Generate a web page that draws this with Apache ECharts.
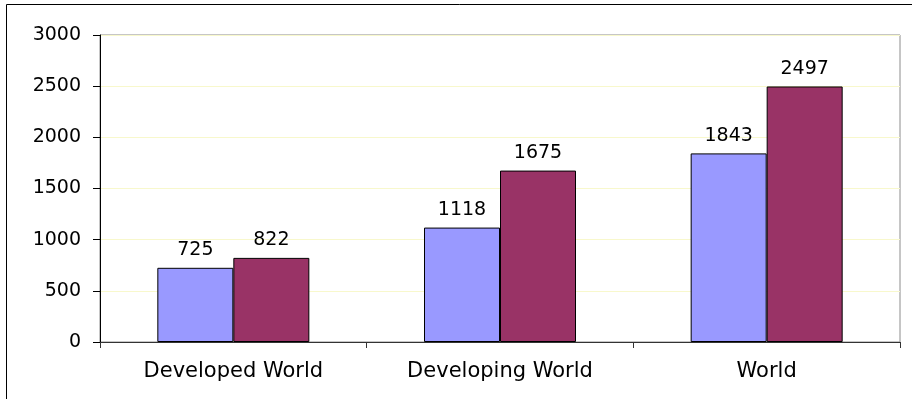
<!DOCTYPE html>
<html>
<head>
<meta charset="utf-8">
<script src="https://cdn.jsdelivr.net/npm/echarts@6/dist/echarts.min.js"></script>
<style>
  html, body { margin: 0; padding: 0; background: #fff; }
  #chart { width: 912px; height: 399px; }
</style>
</head>
<body>
<div id="chart"></div>
<script>
var categories = ['Developed World', 'Developing World', 'World'];
var seriesA = [725, 1118, 1843];
var seriesB = [822, 1675, 2497];
var yTicks = { min: 0, max: 3000, step: 500 };

var chart = echarts.init(document.getElementById('chart'));

var FONT = 'DejaVu Sans, Verdana, sans-serif';

var labelStyle = {
    show: true,
    position: 'top',
    distance: 8,
    color: '#000',
    fontFamily: FONT,
    fontSize: 19
};

chart.setOption({
    animation: false,
    graphic: [{
        type: 'rect',
        shape: { x: 6.5, y: 4.5, width: 940, height: 440 },
        style: { fill: 'none', stroke: '#000', lineWidth: 1 },
        silent: true
    }],
    grid: {
        left: 100, right: 12, top: 35, bottom: 57,
        show: true,
        borderColor: '#8c8c8c',
        borderWidth: 1
    },
    xAxis: {
        type: 'category',
        data: categories,
        axisLine: { lineStyle: { color: '#333', width: 1 } },
        axisTick: { show: true, length: 6, alignWithLabel: false, lineStyle: { color: '#333' } },
        axisLabel: { color: '#000', fontSize: 21, margin: 19, fontFamily: FONT }
    },
    yAxis: {
        type: 'value',
        min: yTicks.min,
        max: yTicks.max,
        interval: yTicks.step,
        axisLine: { show: true, lineStyle: { color: '#000', width: 1 } },
        axisTick: { show: true, length: 7, lineStyle: { color: '#000' } },
        axisLabel: {
            color: '#000', fontSize: 19, margin: 19, fontFamily: FONT,
            formatter: function (v) { return String(v); }
        },
        splitLine: { show: true, lineStyle: { color: '#f8f8cc', width: 1 } }
    },
    series: [{
        type: 'bar',
        data: seriesA,
        barWidth: 76,
        barGap: '0%',
        itemStyle: { color: '#9999ff', borderColor: '#000', borderWidth: 1 },
        label: labelStyle
    }, {
        type: 'bar',
        data: seriesB,
        barWidth: 76,
        itemStyle: { color: '#993366', borderColor: '#000', borderWidth: 1 },
        label: labelStyle
    }]
});
</script>
</body>
</html>
